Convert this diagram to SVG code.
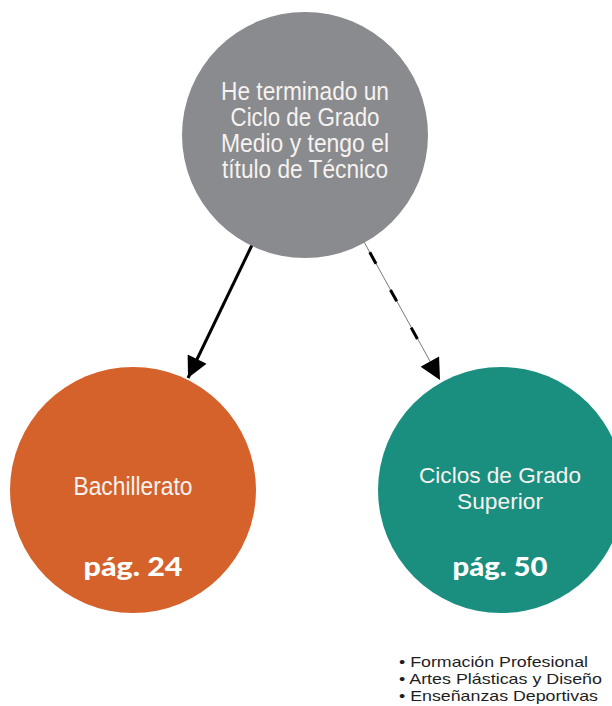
<svg xmlns="http://www.w3.org/2000/svg" width="612" height="706" viewBox="0 0 612 706">
<defs>
<style>
.lbl{font-family:"Liberation Sans","Arial",sans-serif;font-size:25px;fill:#f6f2ef;text-anchor:middle}
.lbl2{font-size:22.5px}
.pg{font-family:Lato,"Open Sans",sans-serif;font-weight:900;font-size:27px;fill:#ffffff;text-anchor:middle}
.lst{font-family:"Liberation Sans","Arial",sans-serif;font-size:15px;fill:#1e1e1e}
.edge{stroke:#000;stroke-width:3;fill:none}
</style>
<marker id="ah" viewBox="0 0 10 10" refX="10" refY="5" markerWidth="7.5" markerHeight="7" markerUnits="strokeWidth" orient="auto">
<path d="M0,0 L10,5 L0,10 z" fill="#000"/>
</marker>
</defs>
<rect width="612" height="706" fill="#ffffff"/>
<g id="connectors">
<line class="edge" x1="252" y1="245" x2="188" y2="378" marker-end="url(#ah)"/>
<line x1="363" y1="240" x2="436" y2="372" stroke="#555" stroke-width="0.8"/>
<line class="edge" x1="363" y1="240" x2="440" y2="380" stroke-dasharray="0 14 13 16" marker-end="url(#ah)"/>
</g>
<g id="node-tecnico">
<circle cx="305" cy="135" r="123" fill="#898b8e"/>
<text class="lbl"><tspan x="305" y="100" textLength="168" lengthAdjust="spacingAndGlyphs">He terminado un</tspan><tspan x="305" y="126" textLength="149" lengthAdjust="spacingAndGlyphs">Ciclo de Grado</tspan><tspan x="305" y="152" textLength="168" lengthAdjust="spacingAndGlyphs">Medio y tengo el</tspan><tspan x="305" y="178" textLength="166" lengthAdjust="spacingAndGlyphs">título de Técnico</tspan></text>
</g>
<g id="node-bachillerato">
<circle cx="133" cy="490" r="123" fill="#d4622a"/>
<text class="lbl" x="133" y="495" textLength="119" lengthAdjust="spacingAndGlyphs">Bachillerato</text>
<text class="pg" x="133" y="576" textLength="99" lengthAdjust="spacingAndGlyphs">pág. 24</text>
</g>
<g id="node-superior">
<circle cx="501" cy="490" r="123" fill="#1a8f80"/>
<text class="lbl lbl2"><tspan x="500" y="483" textLength="162" lengthAdjust="spacingAndGlyphs">Ciclos de Grado</tspan><tspan x="500" y="509" textLength="86" lengthAdjust="spacingAndGlyphs">Superior</tspan></text>
<text class="pg" x="500" y="576" textLength="95" lengthAdjust="spacingAndGlyphs">pág. 50</text>
</g>
<g id="list">
<text class="lst" x="399" y="667" textLength="189" lengthAdjust="spacingAndGlyphs">• Formación Profesional</text>
<text class="lst" x="399" y="684" textLength="203" lengthAdjust="spacingAndGlyphs">• Artes Plásticas y Diseño</text>
<text class="lst" x="399" y="701" textLength="199" lengthAdjust="spacingAndGlyphs">• Enseñanzas Deportivas</text>
</g>
</svg>
